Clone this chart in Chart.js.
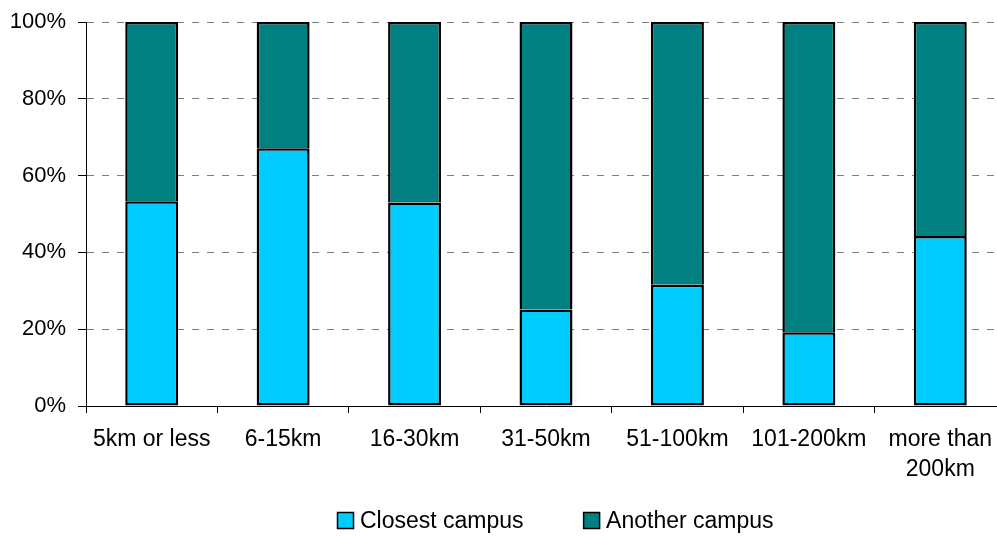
<!DOCTYPE html>
<html>
<head>
<meta charset="utf-8">
<script src="https://cdn.jsdelivr.net/npm/chart.js@4"></script>
<style>
	html, body { margin: 0; padding: 0; background: #fff; overflow: hidden; }
	#wrap { width: 1010px; height: 536px; }
</style>
</head>
<body>
<div id="wrap"><canvas id="chart"></canvas></div>
<script>
const categories = [
	"5km or less",
	"6-15km",
	"16-30km",
	"31-50km",
	"51-100km",
	"101-200km",
	["more than", "200km"],
];
const closestCampus = [53.3, 67.1, 53.0, 25.1, 31.6, 19.2, 44.3];
const anotherCampus = [46.7, 32.9, 47.0, 74.9, 68.4, 80.8, 55.7];
const seriesNames = ["Closest campus", "Another campus"];
const yTicks = [0, 20, 40, 60, 80, 100];

const font = "'Liberation Sans', Arial, sans-serif";

// legend drawn under the axis labels, like the original sheet
const legendBelow = {
	id: "legendBelow",
	afterDraw(chart) {
		const { ctx, chartArea } = chart;
		ctx.save();
		ctx.font = `23px ${font}`;
		ctx.textBaseline = "alphabetic";
		let x = chartArea.left + 251.5;
		const y = 512.5;
		chart.data.datasets.forEach(ds => {
			ctx.fillStyle = ds.backgroundColor;
			ctx.fillRect(x, y, 16, 16);
			ctx.lineWidth = 1.5;
			ctx.strokeStyle = "#000";
			ctx.strokeRect(x, y, 16, 16);
			ctx.fillStyle = "#000";
			ctx.fillText(ds.label, x + 22.5, y + 15);
			x += 22.5 + ctx.measureText(ds.label).width + 60;
		});
		ctx.restore();
	},
};

const config = {
	type: "bar",
	plugins: [legendBelow],
	data: {
		labels: categories,
		datasets: [
			{
				label: seriesNames[0],
				data: closestCampus,
				backgroundColor: "#00ccff",
				borderColor: "#000",
				borderWidth: 2.5,
				borderSkipped: false,
			},
			{
				label: seriesNames[1],
				data: anotherCampus,
				backgroundColor: "#008080",
				borderColor: "#000",
				borderWidth: { top: 2.5, left: 2.5, right: 2.5, bottom: 0 },
				borderSkipped: false,
			},
		],
	},
	options: {
		responsive: true,
		maintainAspectRatio: false,
		animation: false,
		layout: { padding: { top: 22, right: 4, left: 0, bottom: 0 } },
		plugins: {
			legend: { display: false },
			tooltip: { enabled: false },
		},
		datasets: {
			bar: { categoryPercentage: 1, barPercentage: 0.403 },
		},
		scales: {
			x: {
				stacked: true,
				afterFit: scale => { scale.height = 130; },
				grid: {
					offset: true,
					drawOnChartArea: false,
					drawTicks: true,
					tickLength: 7,
					color: "#000",
				},
				border: { color: "#000", width: 1 },
				ticks: {
					color: "#000",
					padding: 12,
					maxRotation: 0,
					autoSkip: false,
					font: { family: font, size: 23, lineHeight: 1.3 },
				},
			},
			y: {
				stacked: true,
				min: 0,
				max: 100,
				afterFit: scale => {
					scale.width = 86;
					scale.paddingTop = 0;
					scale.paddingBottom = 0;
				},
				afterBuildTicks: scale => {
					scale.ticks = yTicks.map(v => ({ value: v }));
				},
				grid: {
					color: "#808080",
					lineWidth: 1,
					tickLength: 8,
					tickColor: "#000",
					tickBorderDash: [],
				},
				border: { color: "#000", width: 1, dash: [7, 8] },
				ticks: {
					color: "#000",
					padding: 12,
					font: { family: font, size: 22 },
					callback: v => v + "%",
				},
			},
		},
	},
};

new Chart(document.getElementById("chart"), config);
</script>
</body>
</html>
